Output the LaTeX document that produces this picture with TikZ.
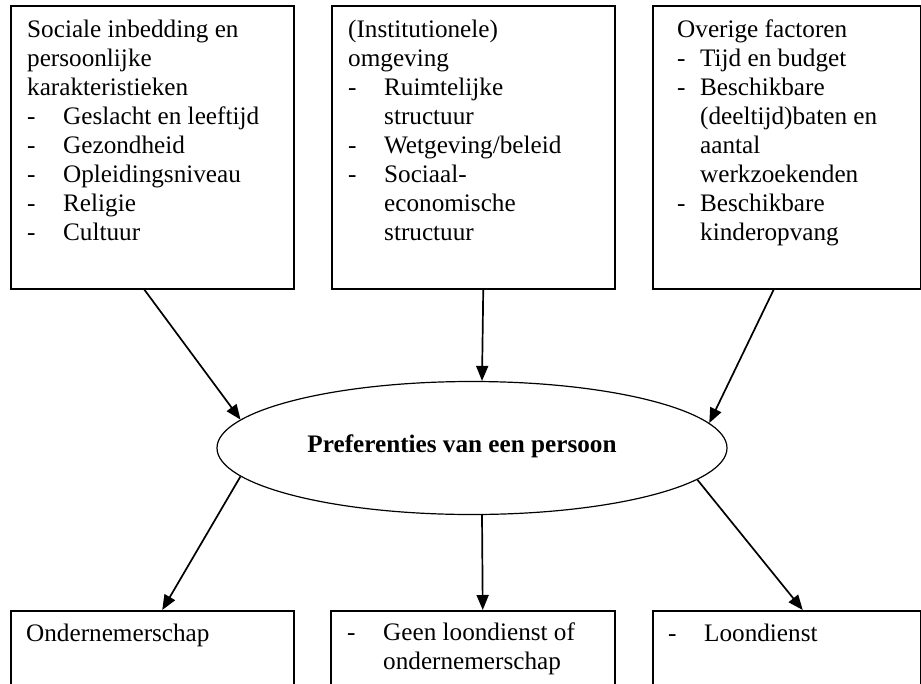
\documentclass[tikz,border=0pt]{standalone}
\usepackage{fontspec}
\setmainfont{Liberation Serif}
\usetikzlibrary{shapes.geometric,arrows.meta,calc}
\newcommand\dl[2][36pt]{\makebox[#1][l]{-}#2}
\newcommand\ct[2][36pt]{\hspace*{#1}#2}
\begin{document}
\begin{tikzpicture}[x=1pt,y=-1pt,
  box/.style={draw, line width=1.5pt, inner sep=0pt, anchor=north west},
  txt/.style={anchor=base west, inner sep=0pt, align=left, font=\fontsize{25.2}{29}\selectfont},
  arr/.style={line width=1.7pt, -{Triangle[length=15pt,width=12pt]}}]
\useasboundingbox (0,0) rectangle (921,683);
\clip (0,0) rectangle (921,683);
% top boxes
\node[box, minimum width=283pt, minimum height=283pt] (b1) at (10,5) {};
\node[box, minimum width=283pt, minimum height=283pt] (b2) at (331,5) {};
\node[box, minimum width=268pt, minimum height=283pt] (b3) at (652,5) {};
% bottom boxes
\node[box, minimum width=283pt, minimum height=90pt] (b4) at (10,610) {};
\node[box, minimum width=284pt, minimum height=90pt] (b5) at (330,610) {};
\node[box, minimum width=268pt, minimum height=90pt] (b6) at (652,610) {};
% texts (base anchor = baseline of the last line)
\node[txt] (t1) at (27,240) {Sociale inbedding en\\persoonlijke\\karakteristieken\\\dl{Geslacht en leeftijd}\\\dl{Gezondheid}\\\dl{Opleidingsniveau}\\\dl{Religie}\\\dl{Cultuur}};
\node[txt] (t2) at (348,240) {(Institutionele)\\omgeving\\\dl{Ruimtelijke}\\\ct{structuur}\\\dl{Wetgeving/beleid}\\\dl{Sociaal-}\\\ct{economische}\\\ct{structuur}};
\node[txt] (t3) at (677,240) {Overige factoren\\\dl[23pt]{Tijd en budget}\\\dl[23pt]{Beschikbare}\\\ct[23pt]{(deeltijd)baten en}\\\ct[23pt]{aantal}\\\ct[23pt]{werkzoekenden}\\\dl[23pt]{Beschikbare}\\\ct[23pt]{kinderopvang}};
\node[txt] (t4) at (26,641) {Ondernemerschap};
\node[txt] (t5) at (347,669) {\dl{Geen loondienst of}\\\ct{ondernemerschap}};
\node[txt] (t6) at (668,641) {\dl{Loondienst}};
% ellipse
\node[draw, ellipse, line width=1.2pt, minimum width=510pt, minimum height=133pt, inner sep=0pt] (ell) at (472,448) {};
\node[font=\fontsize{25.2}{29}\selectfont\bfseries, inner sep=0pt, anchor=base] (pref) at (462,452) {Preferenties van een persoon};
% arrows
\draw[arr] ($(b1.south)+(-8,0)$) -- (ell.173.2);
\draw[arr] ($(b2.south)+(10,0)$) -- ($(ell.north)+(10,0)$);
\draw[arr] ($(b3.south)+(-13,0)$) -- (ell.6.8);
\draw[arr] (ell.187.3) -- ($(b4.north)+(10,0)$);
\draw[arr] ($(ell.south)+(10,0)$) -- ($(b5.north)+(10,0)$);
\draw[arr] (ell.352.7) -- ($(b6.north)+(16,0)$);
\end{tikzpicture}
\end{document}
